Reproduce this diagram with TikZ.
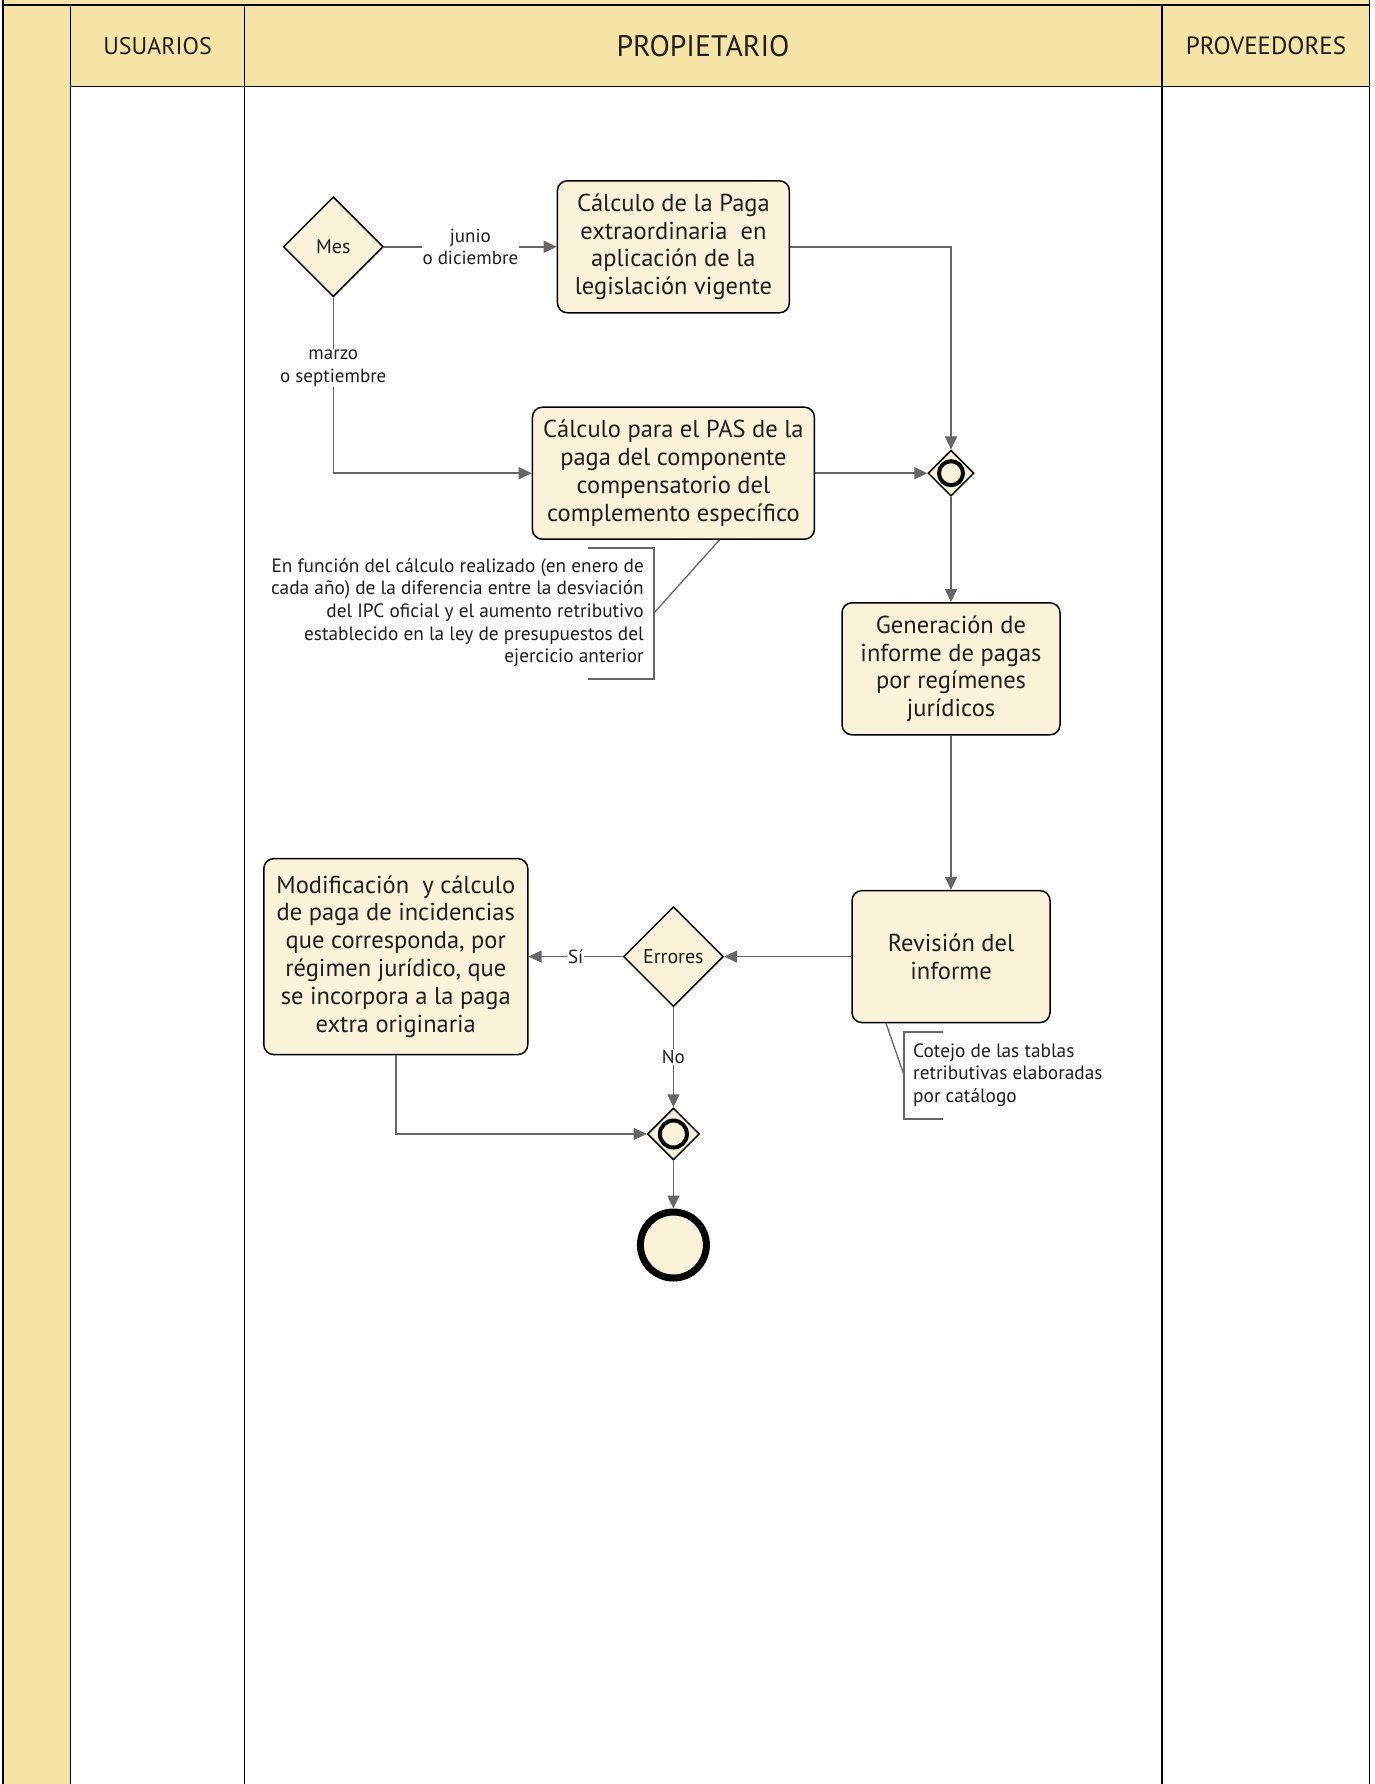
\documentclass[tikz,border=0pt]{standalone}
\usepackage{fontspec}
\setmainfont{PT Sans}
\usetikzlibrary{arrows.meta,shapes.geometric,calc}
\definecolor{hdr}{HTML}{F6E3A6}
\definecolor{cream}{HTML}{FBF2DA}
\definecolor{edgegray}{HTML}{666666}
\definecolor{ink}{HTML}{1E1E1E}
\begin{document}
\begin{tikzpicture}[x=1pt,y=-1pt,
  task/.style={draw=black,line width=1.5pt,rounded corners=10pt,fill=cream,align=center,inner sep=0pt,text=ink,font=\fontsize{24.5}{27.9}\selectfont},
  gate/.style={draw=black,line width=1.5pt,diamond,aspect=1,fill=cream,inner sep=0pt,text=ink,font=\fontsize{20}{22}\selectfont},
  ring/.style={circle,draw=black,line width=4pt,inner sep=0pt},
  flow/.style={draw=edgegray,line width=1.5pt,-{Triangle[length=13pt,width=12pt]}},
  lbl/.style={fill=white,inner sep=1pt,align=center,text=ink,font=\fontsize{19}{22.7}\selectfont},
  anntext/.style={inner sep=0pt,text=ink,font=\fontsize{19.3}{22.7}\selectfont},
  ann/.style={draw=edgegray,line width=1.3pt},
  lane/.style={draw=black,line width=1.2pt},
  hdrtext/.style={text=ink,font=\fontsize{24}{28}\selectfont}
]
\useasboundingbox (0,0) rectangle (1374,1784);
% pool background
\fill[white] (0,0) rectangle (1374,1784);
\fill[hdr] (3,0) rectangle (1369.5,86.5);
\fill[hdr] (3,0) rectangle (70.5,1784);
\draw[lane,line width=2pt] (3,0) -- (3,1784);
\draw[lane] (3,5) -- (1369.5,5);
\draw[lane] (70.5,86.5) -- (1369.5,86.5);
\draw[lane] (70.5,5) -- (70.5,1784);
\draw[lane] (244.5,5) -- (244.5,1784);
\draw[lane] (1162,5) -- (1162,1784);
\draw[lane,line width=1.6pt] (1369.5,0) -- (1369.5,1784);
% headers
\node[hdrtext] (hU) at (157.5,46) {USUARIOS};
\node[hdrtext,font=\fontsize{29.7}{32}\selectfont] (hP) at (703,46) {PROPIETARIO};
\node[hdrtext,font=\fontsize{25}{28}\selectfont] (hV) at (1266,46) {PROVEEDORES};
% nodes
\node[gate,minimum width=100pt,minimum height=100pt] (mes) at (333.3,246.8) {Mes};
\node[task,minimum width=232pt,minimum height=132pt] (t1) at (673.4,246.8) {Cálculo de la Paga\\extraordinaria\ \ en\\aplicación de la\\legislación vigente};
\node[task,minimum width=282pt,minimum height=132pt] (t2) at (673.4,473.2) {Cálculo para el PAS de la\\paga del componente\\compensatorio del\\complemento específico};
\node[gate,minimum width=46pt,minimum height=46pt] (g1) at (951,473.2) {};
\node[ring,minimum size=24pt] (g1c) at (g1.center) {};
\node[task,minimum width=218pt,minimum height=132pt] (t3) at (951,668.8) {Generación de\\informe de pagas\\por regímenes\\jurídicos};
\node[task,minimum width=198pt,minimum height=132pt] (t4) at (951,956.6) {Revisión del\\informe};
\node[gate,minimum width=100pt,minimum height=100pt] (err) at (673.4,956.6) {Errores};
\node[task,minimum width=264pt,minimum height=196pt] (t5) at (395.8,956.6) {Modificación\ \ y cálculo\\de paga de incidencias\\que corresponda, por\\régimen jurídico, que\\se incorpora a la paga\\extra originaria};
\node[gate,minimum width=52pt,minimum height=52pt] (g2) at (673.4,1134) {};
\node[ring,minimum size=27pt] (g2c) at (g2.center) {};
\node[circle,draw=black,line width=7pt,fill=cream,inner sep=0pt,minimum size=66pt] (end) at (673.4,1245) {};
% flows
\draw[flow] (mes.east) -- node[lbl]{junio\\o diciembre} (t1.west);
\draw[flow] (mes.south) |- node[lbl,pos=0.2]{marzo\\o septiembre} (t2.west);
\draw[flow] (t1.east) -| (g1.north);
\draw[flow] (t2.east) -- (g1.west);
\draw[flow] (g1.south) -- (t3.north);
\draw[flow] (t3.south) -- (t4.north);
\draw[flow] (t4.west) -- (err.east);
\draw[flow] (err.west) -- node[lbl]{Sí} (t5.east);
\draw[flow] (err.south) -- node[lbl]{No} (g2.north);
\draw[flow] (t5.south) |- (g2.west);
\draw[flow] (g2.south) -- (end.north);
% annotation 1
\node[anchor=east,align=right,anntext] (a1) at (644,612.5) {En función del cálculo realizado (en enero de\\cada año) de la diferencia entre la desviación\\del IPC oficial y el aumento retributivo\\establecido en la ley de presupuestos del\\ejercicio anterior};
\coordinate (a1b) at (654,613);
\draw[ann] (588,548) -- (654,548) -- (654,679) -- (588,679);
\draw[ann] (a1b) -- ($(t2.south)+(46,0)$);
% annotation 2
\node[anchor=west,align=left,anntext] (a2) at (913,1075) {Cotejo de las tablas\\retributivas elaboradas\\por catálogo};
\coordinate (a2b) at (904,1075);
\draw[ann] (943,1032) -- (904,1032) -- (904,1119) -- (943,1119);
\draw[ann] (a2b) -- ($(t4.south)+(-65,0)$);
\end{tikzpicture}
\end{document}
